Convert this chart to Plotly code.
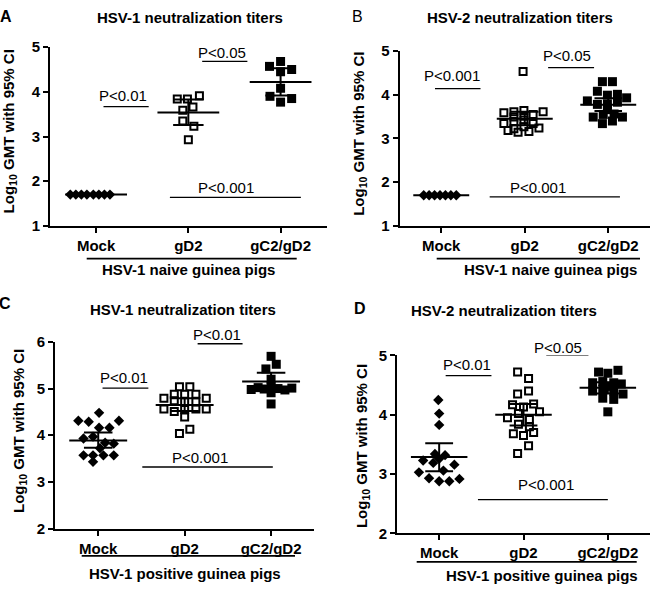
import plotly.graph_objects as go

W, H = 650, 592
FONT = "Liberation Sans, Arial, Helvetica, sans-serif"

categories = ["Mock", "gD2", "gC2/gD2"]

# ---------------- data (log10 titers) ----------------
# Panel A : HSV-1 titers, HSV-1 naive
a_mock = [1.70, 1.70, 1.70, 1.70, 1.70, 1.70, 1.70, 1.70]
a_gd2 = [3.84, 3.84, 3.91, 3.66, 3.59, 3.35, 3.23, 2.93]
a_gc2 = [4.68, 4.57, 4.50, 4.45, 4.08, 3.90, 3.85, 3.77]
a_mean = [1.70, 3.54, 4.22]
a_lo = [1.70, 3.26, 3.92]
a_hi = [1.70, 3.83, 4.53]

# Panel B : HSV-2 titers, HSV-1 naive
b_mock = [1.70, 1.70, 1.70, 1.70, 1.70, 1.70, 1.70]
b_gd2 = [4.53, 3.59, 3.61, 3.64, 3.55, 3.61, 3.34, 3.39, 3.42, 3.34,
         3.18, 3.14, 3.16, 3.24, 3.49, 3.51, 3.27, 3.22]
b_gc2 = [4.30, 4.30, 4.08, 3.99, 4.01, 3.93, 3.86, 3.78, 3.78, 3.83,
         3.49, 3.55, 3.56, 3.49, 3.34, 3.40, 3.66]
b_mean = [1.70, 3.45, 3.77]
b_lo = [1.70, 3.30, 3.63]
b_hi = [1.70, 3.61, 3.92]

# Panel C : HSV-1 titers, HSV-1 positive
c_mock = [4.48, 4.31, 4.31, 4.29, 4.16, 4.16, 3.93, 3.97, 3.84, 3.82,
          3.57, 3.57, 3.57, 3.57, 3.43, 3.72]
c_gd2 = [5.04, 5.04, 4.88, 4.88, 4.88, 4.79, 4.79, 4.74, 4.72, 4.72,
         4.56, 4.51, 4.55, 4.56, 4.56, 4.39, 4.13, 4.04]
c_gc2 = [6.01, 5.69, 5.52, 5.42, 5.20, 4.98, 5.02, 4.99, 5.04, 5.00,
         4.97, 5.01, 4.91, 4.67]
c_mean = [3.89, 4.65, 5.15]
c_lo = [3.73, 4.52, 4.96]
c_hi = [4.06, 4.79, 5.34]

# Panel D : HSV-2 titers, HSV-1 positive
d_mock = [4.25, 4.02, 3.83, 3.34, 3.32, 3.23, 3.19, 3.16, 3.06, 3.03,
          2.93, 2.88, 2.88, 2.92, 3.26]
d_gd2 = [4.72, 4.61, 4.40, 4.35, 4.17, 4.13, 4.18, 4.05, 3.95, 4.02,
         3.92, 3.84, 3.80, 3.68, 3.65, 3.70, 3.48, 3.35]
d_gc2 = [4.72, 4.70, 4.75, 4.54, 4.56, 4.54, 4.52, 4.40, 4.43, 4.40,
         4.35, 4.28, 4.26, 4.05, 4.48]
d_mean = [3.29, 4.00, 4.455]
d_lo = [3.05, 3.82, 4.36]
d_hi = [3.52, 4.18, 4.55]

# ---------------- scatter jitter (horizontal spread, category units) ----------------
a_mock_dx = [-0.28, -0.22, -0.16, -0.10, -0.03, 0.03, 0.09, 0.15]
a_gd2_dx = [-0.12, -0.01, 0.12, 0.05, -0.06, -0.06, 0.06, 0.0]
a_gc2_dx = [0.0, -0.12, 0.12, 0.0, 0.0, -0.115, 0.12, 0.0]

b_mock_dx = [-0.21, -0.145, -0.08, -0.015, 0.05, 0.115, 0.18]
b_gd2_dx = [-0.02, -0.25, -0.13, -0.01, 0.10, 0.22, -0.25, -0.13, -0.01, 0.10,
            -0.20, -0.08, 0.05, 0.17, -0.13, -0.01, -0.01, -0.13]
b_gc2_dx = [-0.07, 0.05, -0.13, -0.01, 0.11, 0.22, -0.25, -0.13, -0.01, 0.11,
            -0.18, -0.06, 0.07, 0.17, -0.07, 0.05, -0.01]

c_mock_dx = [0.01, -0.23, 0.24, -0.11, 0.01, 0.13, -0.17, -0.06, 0.08, 0.18,
             -0.17, -0.06, 0.06, 0.18, -0.06, 0.02]
c_gd2_dx = [-0.06, 0.06, -0.12, 0.0, 0.13, -0.24, 0.25, -0.12, 0.0, 0.13,
            -0.24, -0.12, 0.0, 0.13, 0.25, 0.0, 0.06, -0.06]
c_gc2_dx = [0.0, 0.0, 0.06, -0.06, 0.0, -0.23, -0.15, -0.08, 0.0, 0.08,
            0.16, 0.24, 0.0, 0.0]

d_mock_dx = [-0.01, 0.0, 0.0, -0.05, 0.07, -0.19, -0.07, 0.18, 0.05, -0.24,
             -0.12, 0.0, 0.12, 0.24, 0.0]
d_gd2_dx = [-0.07, 0.06, 0.06, -0.07, -0.13, 0.0, 0.12, 0.19, -0.19, -0.06,
            0.07, -0.06, 0.07, -0.12, 0.0, 0.12, 0.06, -0.07]
d_gc2_dx = [-0.11, 0.0, 0.12, -0.18, -0.06, 0.07, 0.16, -0.18, -0.06, 0.07,
            0.18, -0.06, 0.07, 0.0, 0.0]

# ---------------- panel layout (pixel geometry) ----------------
panels = [
    dict(letter="A", letter_bold=True, letter_xy=(6, 8),
         title="HSV-1 neutralization titers", title_xy=(190, 8.5),
         xpx=(50, 326.7), ypx=(223.3, 39.3), yrange=(1, 5),
         ytitle_xy=(9, 126),
         groups=[(a_mock, a_mock_dx), (a_gd2, a_gd2_dx), (a_gc2, a_gc2_dx)],
         stats=(a_mean, a_lo, a_hi),
         pvals=[("P<0.01", 0.08, 0.57, 3.67, 0.29, 11),
                ("P<0.05", 1.15, 1.64, 4.68, 1.36, 9),
                ("P<0.001", 0.80, 2.22, 1.64, 1.41, 10)],
         group_label="HSV-1 naive guinea pigs",
         gline=(86.7, 296.7, 257), gtext=(188.3, 268)),
    dict(letter="B", letter_bold=False, letter_xy=(357, 8),
         title="HSV-2 neutralization titers", title_xy=(519.5, 8.5),
         xpx=(399.5, 650), ypx=(223.3, 43.3), yrange=(1, 5),
         ytitle_xy=(360, 128.5),
         groups=[(b_mock, b_mock_dx), (b_gd2, b_gd2_dx), (b_gc2, b_gc2_dx)],
         stats=(b_mean, b_lo, b_hi),
         pvals=[("P<0.001", -0.075, 0.47, 4.14, 0.13, 13),
                ("P<0.05", 1.28, 1.83, 4.62, 1.51, 12.5),
                ("P<0.001", 0.58, 2.14, 1.665, 1.16, 9.5)],
         group_label="HSV-1 naive guinea pigs",
         gline=(436.7, 640, 257), gtext=(550, 268)),
    dict(letter="C", letter_bold=True, letter_xy=(5, 303),
         title="HSV-1 neutralization titers", title_xy=(182.5, 309),
         xpx=(55, 314.3), ypx=(535, 342.7), yrange=(2, 6),
         ytitle_xy=(19.5, 435),
         groups=[(c_mock, c_mock_dx), (c_gd2, c_gd2_dx), (c_gc2, c_gc2_dx)],
         stats=(c_mean, c_lo, c_hi),
         pvals=[("P<0.01", 0.05, 0.58, 5.01, 0.30, 11),
                ("P<0.01", 1.15, 1.67, 5.96, 1.37, 9.5),
                ("P<0.001", 0.51, 2.02, 3.32, 1.18, 9.5)],
         group_label="HSV-1 positive guinea pigs",
         gline=(81.7, 295, 563), gtext=(185, 581.5)),
    dict(letter="D", letter_bold=True, letter_xy=(360, 308.5),
         title="HSV-2 neutralization titers", title_xy=(504, 310.5),
         xpx=(397, 650), ypx=(540, 356.7), yrange=(2, 5),
         ytitle_xy=(362, 450),
         groups=[(d_mock, d_mock_dx), (d_gd2, d_gd2_dx), (d_gc2, d_gc2_dx)],
         stats=(d_mean, d_lo, d_hi),
         pvals=[("P<0.01", 0.077, 0.62, 4.66, 0.33, 11.5),
                ("P<0.05", 1.27, 1.77, 5.0, 1.41, 7.5),
                ("P<0.001", 0.46, 2.0, 2.57, 1.27, 15)],
         group_label="HSV-1 positive guinea pigs",
         gline=(416.7, 636.7, 569.3), gtext=(541.7, 583.3)),
]

marker_styles = [
    dict(symbol="diamond", size=8, color="black", line=dict(width=0)),
    dict(symbol="square-open", size=7, color="black", line=dict(width=2, color="black")),
    dict(symbol="square", size=9, color="black", line=dict(width=0)),
]

MEAN_HW = 0.335
CAP_HW = 0.165


def fx(px):
    return px / W


def fy(py):
    return 1 - py / H


fig = go.Figure()
annotations = []
shapes = []
layout_axes = {}

for i, p in enumerate(panels, start=1):
    xa = "x" if i == 1 else f"x{i}"
    ya = "y" if i == 1 else f"y{i}"
    xkey = "xaxis" if i == 1 else f"xaxis{i}"
    ykey = "yaxis" if i == 1 else f"yaxis{i}"

    # data points
    for g, ((vals, dxs), ms) in enumerate(zip(p["groups"], marker_styles)):
        fig.add_trace(go.Scatter(
            x=[g + d for d in dxs], y=vals, mode="markers", marker=ms,
            xaxis=xa, yaxis=ya, cliponaxis=False, hoverinfo="skip"))

    # mean and 95% CI
    means, los, his = p["stats"]
    lx, ly = [], []
    for g, (m, lo, hi) in enumerate(zip(means, los, his)):
        lx += [g - MEAN_HW, g + MEAN_HW, None, g, g, None,
               g - CAP_HW, g + CAP_HW, None, g - CAP_HW, g + CAP_HW, None]
        ly += [m, m, None, lo, hi, None, lo, lo, None, hi, hi, None]
    fig.add_trace(go.Scatter(x=lx, y=ly, mode="lines",
                             line=dict(color="black", width=2),
                             xaxis=xa, yaxis=ya, hoverinfo="skip"))

    # axes
    y0, y1 = p["yrange"]
    layout_axes[xkey] = dict(
        domain=[fx(p["xpx"][0]), fx(p["xpx"][1])], range=[-0.5, 2.5],
        anchor=ya, tickvals=[0, 1, 2], ticktext=categories,
        showline=True, linecolor="black", linewidth=2,
        ticks="outside", ticklen=5, tickwidth=2, tickcolor="black",
        showgrid=False, zeroline=False, fixedrange=True,
        tickfont=dict(family=FONT, size=15, color="black", weight="bold"))
    layout_axes[ykey] = dict(
        domain=[fy(p["ypx"][0]), fy(p["ypx"][1])], range=[y0, y1],
        anchor=xa, dtick=1, tick0=y0,
        showline=True, linecolor="black", linewidth=2,
        ticks="outside", ticklen=5, tickwidth=2, tickcolor="black",
        showgrid=False, zeroline=False, fixedrange=True,
        tickfont=dict(family=FONT, size=15, color="black", weight="bold"))

    # p-value brackets
    for text, x0, x1, yv, tx, dy in p["pvals"]:
        shapes.append(dict(type="line", xref=xa, yref=ya, x0=x0, x1=x1,
                           y0=yv, y1=yv, line=dict(color="black", width=1.3)))
        annotations.append(dict(text=text, xref=xa, yref=ya, x=tx, y=yv,
                                yshift=dy, showarrow=False,
                                xanchor="center", yanchor="middle",
                                font=dict(family=FONT, size=15, color="black")))

    # group line and label below axis
    gx0, gx1, gy = p["gline"]
    shapes.append(dict(type="line", xref="paper", yref="paper",
                       x0=fx(gx0), x1=fx(gx1), y0=fy(gy), y1=fy(gy),
                       line=dict(color="black", width=1.7)))
    annotations.append(dict(text=p["group_label"], xref="paper", yref="paper",
                            x=fx(p["gtext"][0]), y=fy(p["gtext"][1]),
                            showarrow=False, xanchor="center", yanchor="middle",
                            font=dict(family=FONT, size=15, color="black", weight="bold")))

    # title, panel letter, y-axis title
    annotations.append(dict(text=p["title"], xref="paper", yref="paper",
                            x=fx(p["title_xy"][0]), y=fy(p["title_xy"][1]),
                            showarrow=False, xanchor="center", yanchor="middle",
                            font=dict(family=FONT, size=15, color="black", weight="bold")))
    annotations.append(dict(text=p["letter"], xref="paper", yref="paper",
                            x=fx(p["letter_xy"][0]), y=fy(p["letter_xy"][1]),
                            showarrow=False, xanchor="center", yanchor="middle",
                            font=dict(family=FONT, size=16, color="black",
                                      weight="bold" if p["letter_bold"] else "normal")))
    annotations.append(dict(text="Log<sub>10</sub> GMT with 95% CI",
                            xref="paper", yref="paper",
                            x=fx(p["ytitle_xy"][0]), y=fy(p["ytitle_xy"][1]),
                            textangle=-90, showarrow=False,
                            xanchor="center", yanchor="middle",
                            font=dict(family=FONT, size=15, color="black", weight="bold")))

fig.update_layout(
    width=W, height=H, margin=dict(l=0, r=0, t=0, b=0),
    paper_bgcolor="white", plot_bgcolor="white", showlegend=False,
    annotations=annotations, shapes=shapes, **layout_axes)

# the page body has a default 8px margin; remove it synchronously (right after
# the plot call is issued) so the 650x592 figure fills the window exactly
fig.write_html(
    "out.html",
    config={"displayModeBar": False, "staticPlot": True},
    post_script="}); document.body.style.margin='0'; "
                "document.body.style.overflow='hidden'; (function(){",
)
